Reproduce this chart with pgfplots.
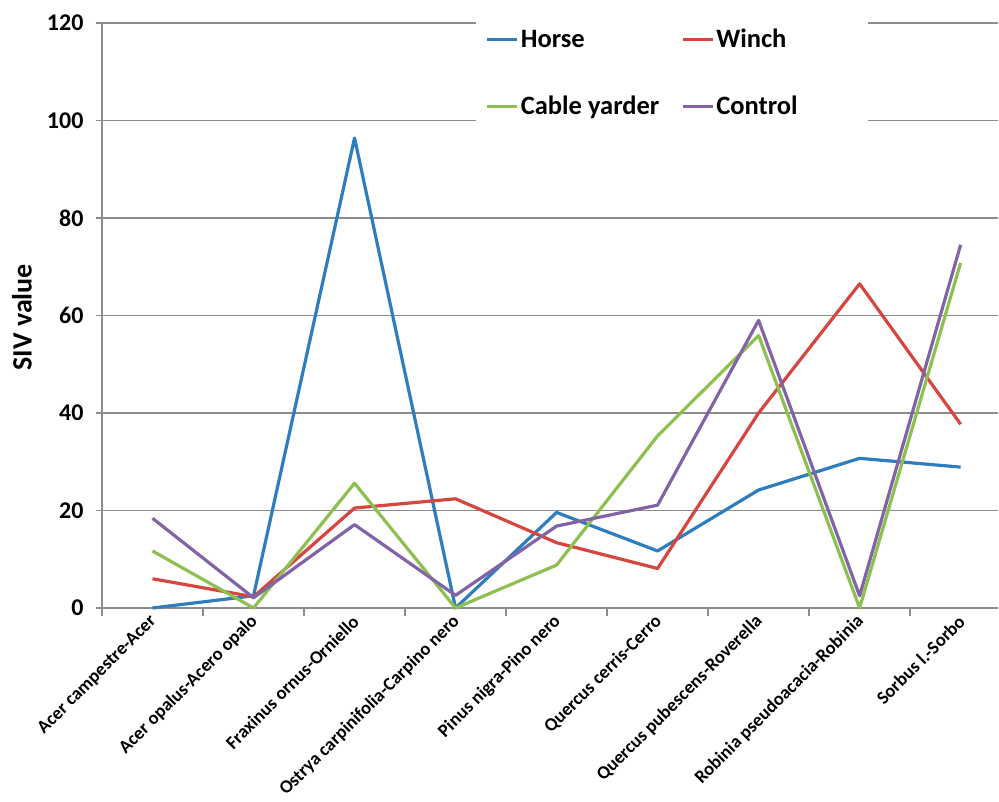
\documentclass[border=0pt]{standalone}
\usepackage{pgfplots}
\pgfplotsset{compat=1.18}
\usepackage{fontspec}
\setmainfont{Carlito}
\definecolor{cHorse}{RGB}{46,125,190}
\definecolor{cWinch}{RGB}{214,69,62}
\definecolor{cCable}{RGB}{142,192,80}
\definecolor{cControl}{RGB}{130,100,166}
\definecolor{gridgray}{RGB}{140,140,140}
\begin{document}
\begin{tikzpicture}
\begin{axis}[
  at={(0pt,0pt)}, anchor=south west, scale only axis,
  width=896pt, height=585pt,
  xmin=-0.5, xmax=8.37, ymin=0, ymax=120,
  axis x line*=bottom, axis y line*=left,
  axis line style={draw=gridgray, line width=1.3pt, -},
  ytick={0,20,...,120}, ymajorgrids,
  grid style={gridgray, line width=1.3pt},
  xtick={0,...,8},
  xticklabels={Acer campestre-Acer, Acer opalus-Acero opalo, Fraxinus ornus-Orniello, Ostrya carpinifolia-Carpino nero, Pinus nigra-Pino nero, Quercus cerris-Cerro, Quercus pubescens-Roverella, Robinia pseudoacacia-Robinia, Sorbus l.-Sorbo},
  major x tick style={draw=none},
  minor xtick={-0.5,0.5,...,7.5},
  minor x tick style={draw=gridgray, line width=1.3pt},
  minor tick length=8pt,
  major y tick style={draw=gridgray, line width=1.3pt},
  major tick length=6pt,
  tick align=outside,
  /pgf/number format/assume math mode=true,
  yticklabel style={font=\fontsize{24}{26}\selectfont\bfseries, xshift=-9pt},
  xticklabel style={font=\fontsize{18.5}{20}\selectfont\bfseries, rotate=45, anchor=east, xshift=1pt, yshift=-4pt},
  ylabel={SIV value},
  ylabel style={font=\fontsize{28}{30}\selectfont\bfseries, at={(axis description cs:-0.0893,0.497)}, anchor=center},
  legend columns=2,
  legend cell align=left,
  legend style={at={(axis description cs:0.417,1.0085)}, anchor=north west, draw=none, fill=white,
    font=\fontsize{26.5}{28}\selectfont\bfseries,
    /tikz/every even column/.append style={column sep=20pt},
    row sep=43pt, inner xsep=10pt, inner ysep=9pt},
  legend image code/.code={\draw[#1, line width=3pt] (0pt,0pt) -- (30pt,0pt);},
  clip=false,
  every axis plot/.append style={line width=3.2pt, line join=round, mark=none},
]
\addplot[cHorse] coordinates {(0,0) (1,2.5) (2,96.4) (3,0) (4,19.6) (5,11.7) (6,24.2) (7,30.7) (8,28.9)};
\addlegendentry{Horse}
\addplot[cWinch] coordinates {(0,6.0) (1,2.3) (2,20.5) (3,22.4) (4,13.4) (5,8.1) (6,40.0) (7,66.5) (8,37.7)};
\addlegendentry{Winch}
\addplot[cCable] coordinates {(0,11.7) (1,0) (2,25.6) (3,0) (4,8.8) (5,35.3) (6,55.9) (7,0) (8,70.8)};
\addlegendentry{Cable yarder}
\addplot[cControl] coordinates {(0,18.4) (1,2.1) (2,17.1) (3,2.6) (4,16.8) (5,21.1) (6,59.0) (7,2.5) (8,74.5)};
\addlegendentry{\makebox[140pt][l]{Control}}
\end{axis}
\pgfresetboundingbox
\path (-102pt,-194pt) rectangle (897pt,608pt);
\end{tikzpicture}
\end{document}
